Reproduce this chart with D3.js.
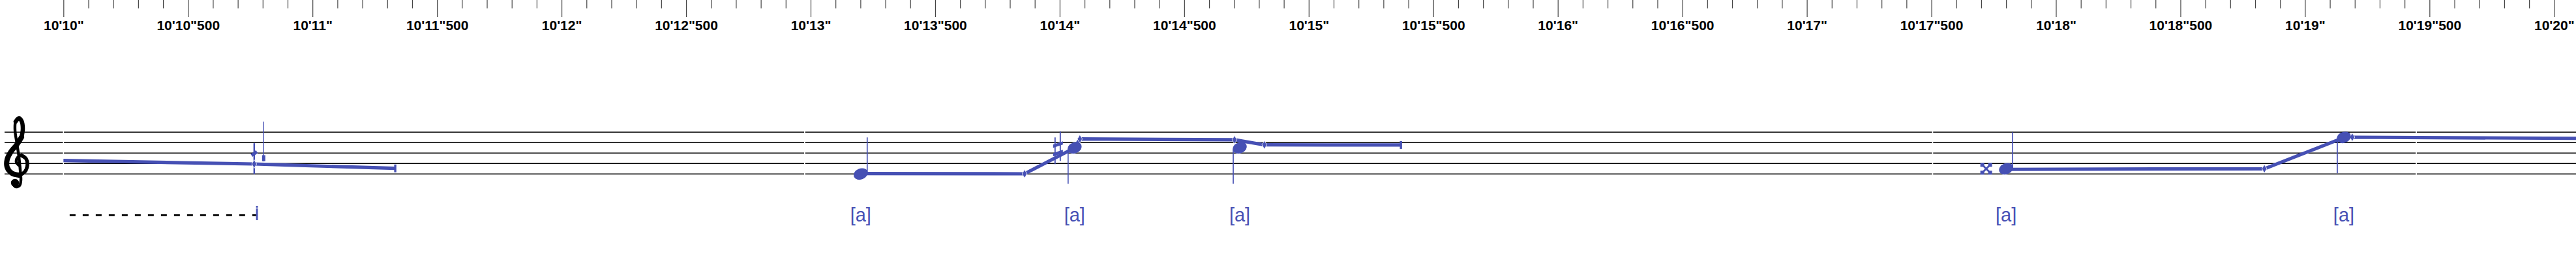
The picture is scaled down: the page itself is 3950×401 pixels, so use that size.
<!DOCTYPE html>
<html><head><meta charset="utf-8">
<script src="https://cdn.jsdelivr.net/npm/d3@7"></script>
<style>body{margin:0;background:#fff;} svg{display:block;}</style>
</head><body>
<svg id="chart" width="3950" height="401"></svg>
<script>
// ---------- DATA ----------
const majorTickTimes = [610,610.5,611,611.5,612,612.5,613,613.5,614,614.5,615,615.5,616,616.5,617,617.5,618,618.5,619,619.5,620];
const majorTickLabels = ["10'10\"","10'10\"500","10'11\"","10'11\"500","10'12\"","10'12\"500","10'13\"","10'13\"500","10'14\"","10'14\"500","10'15\"","10'15\"500","10'16\"","10'16\"500","10'17\"","10'17\"500","10'18\"","10'18\"500","10'19\"","10'19\"500","10'20\""];
const staffLineSteps = [0, 2, 4, 6, 8];           // E4 G4 B4 D5 F5
const staffGapTimes = [610.0, 612.976, 617.505, 619.447];

const noteTimes = [613.201, 614.060, 614.723, 617.800, 619.156];
const noteSteps = [0, 5, 5, 1, 7];
const noteStems = ["up", "down", "down", "up", "down"];
const noteAccidentals = ["", "sharp", "", "doublesharp", ""];
const noteLyrics = ["[a]", "[a]", "[a]", "[a]", "[a]"];

const pitchLines = [
  [[609.80, 2.75], [610.766, 1.91], [611.332, 1.075]],
  [[613.201, 0.08], [613.859, 0.04], [614.060, 5.0]],
  [[614.060, 5.0], [614.081, 6.7], [614.702, 6.55], [614.822, 5.575], [615.370, 5.55]],
  [[617.800, 0.88], [618.837, 1.0], [619.156, 6.95]],
  [[619.156, 6.95], [619.19, 7.04], [620.09, 6.82]]
];
const breakpoints = [[610.766, 1.91], [613.859, 0.04], [614.081, 6.7], [614.702, 6.55], [614.822, 5.575], [618.837, 1.0], [619.19, 7.04]];
const endBars = [[611.332, 1.075], [615.370, 5.55]];

// first (cut) note extras
const extraStem = {t: 610.766, from: 0, to: 5.9};
const extraMark = {t: 610.766, step: 3.9};
const extraThin = {t: 610.804, from: 2.45, to: 10};
const extraRect = {t: 610.804, from: 2.45, to: 3.6};
const dashSpan = [610.025, 610.774];
const dashEndMarker = 610.777;

// ---------- SETUP ----------
const BLUE = "#4650b4";
const W = 3950, H = 401;
const svg = d3.select("#chart");
svg.append("rect").attr("width", W).attr("height", H).attr("fill", "#fff");

const x = d3.scaleLinear().domain([610, 620]).range([97.3, 3916.3]);
const y = d3.scaleLinear().domain([0, 8]).range([266.3, 202.3]);

// ---------- RULER ----------
const minorTicks = d3.range(0, 101).map(i => 610 + i * 0.1).filter(t => Math.abs((t * 2) - Math.round(t * 2)) > 1e-6);
const minorAxis = d3.axisBottom(x).tickValues(minorTicks).tickSize(12.7).tickFormat("");
const gMinor = svg.append("g").call(minorAxis);
gMinor.select(".domain").remove();
gMinor.selectAll("line").attr("stroke", "#444").attr("stroke-width", 1.2);

const majorAxis = d3.axisBottom(x).tickValues(majorTickTimes).tickSize(26).tickPadding(5)
  .tickFormat((d, i) => majorTickLabels[i]);
const gMajor = svg.append("g").call(majorAxis);
gMajor.select(".domain").remove();
gMajor.selectAll("line").attr("stroke", "#444").attr("stroke-width", 1.2);
gMajor.selectAll("text").attr("font-family", "Liberation Sans, Arial, sans-serif")
  .attr("font-weight", "bold").attr("font-size", 21).attr("fill", "#000");

// ---------- STAFF ----------
svg.append("g").selectAll("line").data(staffLineSteps).join("line")
  .attr("x1", 7).attr("x2", W).attr("y1", d => y(d)).attr("y2", d => y(d))
  .attr("stroke", "#000").attr("stroke-width", 1.4);
svg.append("g").selectAll("rect").data(staffGapTimes).join("rect")
  .attr("x", d => x(d) - 0.8).attr("width", 1.6)
  .attr("y", y(8) - 2).attr("height", y(0) - y(8) + 4).attr("fill", "#fff");

// treble clef (drawn as strokes)
const clef = svg.append("g").attr("transform", "translate(8,180)");
const clefPts = [[21,73],[17,68],[19,61],[25,58],[32,63],[34,72],[30,83],[21,88],[10,85],[3,76],[3,64],[9,52],[18,41],[25,30],[27,17],[25,5],[21,1],[16,6],[15,19],[18,40],[21,60],[23,80],[24,96],[22,104],[16,106],[12,101]];
const clefLine = d3.line().curve(d3.curveCatmullRom.alpha(0.5));
clef.append("path").attr("d", clefLine(clefPts)).attr("fill", "none").attr("stroke", "#000")
  .attr("stroke-width", 4.4).attr("stroke-linecap", "round").attr("stroke-linejoin", "round");
clef.append("path").attr("d", clefLine(clefPts.slice(7, 14))).attr("fill", "none").attr("stroke", "#000")
  .attr("stroke-width", 8).attr("stroke-linecap", "round");
clef.append("path").attr("d", clefLine(clefPts.slice(13, 18))).attr("fill", "none").attr("stroke", "#000")
  .attr("stroke-width", 6.5).attr("stroke-linecap", "round");
clef.append("path").attr("d", clefLine(clefPts.slice(3, 8))).attr("fill", "none").attr("stroke", "#000")
  .attr("stroke-width", 5.5).attr("stroke-linecap", "round");
clef.append("circle").attr("cx", 15).attr("cy", 100).attr("r", 6.2).attr("fill", "#000");

// ---------- NOTES ----------
const plot = svg.append("g");
svg.append("defs").append("clipPath").attr("id", "clip")
  .append("rect").attr("x", x(610)).attr("y", 0).attr("width", W - x(610)).attr("height", H);
const linesG = plot.append("g").attr("clip-path", "url(#clip)");

const pline = d3.line().x(d => x(d[0])).y(d => y(d[1]));
linesG.selectAll("path").data(pitchLines).join("path")
  .attr("d", pline).attr("fill", "none").attr("stroke", BLUE)
  .attr("stroke-width", 5.2).attr("stroke-linejoin", "round");

// end bars
plot.selectAll(".endbar").data(endBars).join("rect").attr("class", "endbar")
  .attr("x", d => x(d[0]) - 1.6).attr("width", 3.4)
  .attr("y", d => y(d[1]) - 6).attr("height", 12).attr("fill", BLUE);

// extras of the cut note
plot.append("line").attr("x1", x(extraStem.t)).attr("x2", x(extraStem.t))
  .attr("y1", y(extraStem.from)).attr("y2", y(extraStem.to)).attr("stroke", BLUE).attr("stroke-width", 2.5);
plot.append("rect").attr("x", -5).attr("y", -2.6).attr("width", 10).attr("height", 5.2).attr("fill", BLUE)
  .attr("transform", `translate(${x(extraMark.t)},${y(extraMark.step)}) rotate(-35)`);
plot.append("line").attr("x1", x(extraThin.t)).attr("x2", x(extraThin.t))
  .attr("y1", y(extraThin.from)).attr("y2", y(extraThin.to)).attr("stroke", BLUE).attr("stroke-width", 1.3);
plot.append("rect").attr("x", x(extraRect.t) - 2.5).attr("width", 5)
  .attr("y", y(extraRect.to)).attr("height", y(extraRect.from) - y(extraRect.to)).attr("fill", BLUE);

// breakpoints (diamonds)
plot.selectAll(".bp").data(breakpoints).join("path").attr("class", "bp")
  .attr("d", "M0,-6.5 L3.8,0 L0,6.5 L-3.8,0 Z")
  .attr("transform", d => `translate(${x(d[0])},${y(d[1])})`)
  .attr("fill", BLUE).attr("stroke", "#fff").attr("stroke-width", 0.8);

// stems
const notes = noteTimes.map((t, i) => ({t, step: noteSteps[i], stem: noteStems[i], acc: noteAccidentals[i], lyr: noteLyrics[i]}));
plot.selectAll(".stem").data(notes).join("line").attr("class", "stem")
  .attr("x1", d => x(d.t) + (d.stem === "up" ? 10 : -10))
  .attr("x2", d => x(d.t) + (d.stem === "up" ? 10 : -10))
  .attr("y1", d => y(d.step) + (d.stem === "up" ? -1 : 2))
  .attr("y2", d => y(d.step) + (d.stem === "up" ? -56 : 55))
  .attr("stroke", BLUE).attr("stroke-width", 1.7);

// heads
plot.selectAll(".head").data(notes).join("ellipse").attr("class", "head")
  .attr("rx", 11.2).attr("ry", 8.4)
  .attr("transform", d => `translate(${x(d.t)},${y(d.step)}) rotate(-22)`)
  .attr("fill", BLUE);

// accidentals
notes.forEach(d => {
  const cx = x(d.t), cy = y(d.step);
  if (d.acc === "sharp") {
    const g = plot.append("g").attr("transform", `translate(${cx - 26},${cy})`);
    g.append("line").attr("x1", -4).attr("x2", -4).attr("y1", -16).attr("y2", 25).attr("stroke", BLUE).attr("stroke-width", 1.9);
    g.append("line").attr("x1", 4).attr("x2", 4).attr("y1", -25).attr("y2", 20).attr("stroke", BLUE).attr("stroke-width", 1.9);
    g.append("path").attr("d", "M-7,-5 L8,-10 L8,-5 L-7,0 Z").attr("fill", BLUE);
    g.append("path").attr("d", "M-7,8 L8,3 L8,8 L-7,13 Z").attr("fill", BLUE);
  } else if (d.acc === "doublesharp") {
    const g = plot.append("g").attr("transform", `translate(${cx - 30.5},${cy})`);
    g.append("path").attr("d", "M-6,-6 L6,6 M6,-6 L-6,6").attr("stroke", BLUE).attr("stroke-width", 2.8);
    [[-6,-6],[6,-6],[-6,6],[6,6]].forEach(p => g.append("rect").attr("x", p[0] - 3).attr("y", p[1] - 3)
      .attr("width", 6).attr("height", 6).attr("fill", BLUE));
  }
});

// lyrics
plot.selectAll(".lyr").data(notes).join("text").attr("class", "lyr")
  .attr("x", d => x(d.t)).attr("y", 339).attr("text-anchor", "middle")
  .attr("font-family", "Liberation Sans, Arial, sans-serif").attr("font-size", 29)
  .attr("fill", BLUE).text(d => d.lyr);

// dashed extension line
plot.append("line").attr("x1", x(dashSpan[0])).attr("x2", x(dashSpan[1]))
  .attr("y1", 329.3).attr("y2", 329.3).attr("stroke", "#000").attr("stroke-width", 2.7)
  .attr("stroke-dasharray", "9 11");
plot.append("rect").attr("x", x(dashEndMarker) - 1.4).attr("width", 2.8).attr("y", 315).attr("height", 2.8).attr("fill", BLUE);
plot.append("rect").attr("x", x(dashEndMarker) - 1.4).attr("width", 2.8).attr("y", 319).attr("height", 18).attr("fill", BLUE);
</script>
</body></html>
